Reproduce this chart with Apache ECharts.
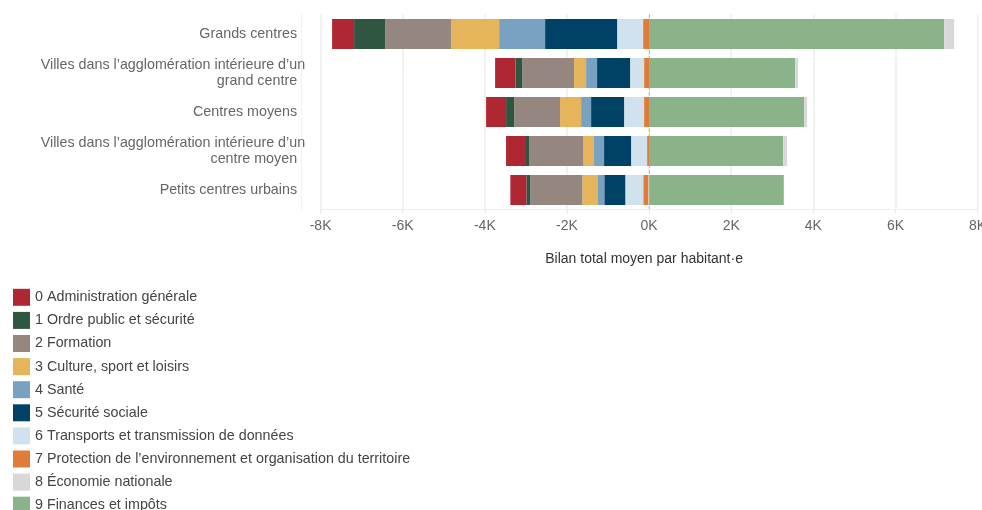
<!DOCTYPE html>
<html lang="fr">
<head>
<meta charset="utf-8">
<script src="https://cdn.jsdelivr.net/npm/echarts@6/dist/echarts.min.js"></script>
<style>
  html, body { margin: 0; padding: 0; background: #fff; }
  #chart { width: 982px; height: 510px; }
</style>
</head>
<body>
<div id="chart"></div>
<script>
// Types de communes (axe vertical)
const categories = [
  'Grands centres',
  'Villes dans l’agglomération intérieure d’un\ngrand centre',
  'Centres moyens',
  'Villes dans l’agglomération intérieure d’un\ncentre moyen',
  'Petits centres urbains'
];

// Fonctions (domaines) : noms et couleurs
const functionNames = [
  '0 Administration générale',
  '1 Ordre public et sécurité',
  '2 Formation',
  '3 Culture, sport et loisirs',
  '4 Santé',
  '5 Sécurité sociale',
  '6 Transports et transmission de données',
  '7 Protection de l’environnement et organisation du territoire',
  '8 Économie nationale',
  '9 Finances et impôts'
];
const functionColors = [
  '#B02734', '#2F5641', '#958780', '#E5B45B', '#79A1C1',
  '#004266', '#D1E2EE', '#E07B39', '#D8D8D8', '#8BB38A'
];

// Bilan moyen par habitant·e (CHF), par fonction et type de commune
const f0 = [-536, -495, -487, -463, -390];
const f1 = [-755, -162, -195, -97, -97];
const f2 = [-1607, -1266, -1120, -1315, -1266];
const f3 = [-1169, -292, -511, -268, -365];
const f4 = [-1120, -268, -244, -244, -170];
const f5 = [-1754, -804, -804, -658, -511];
const f6 = [-633, -341, -487, -390, -438];
const f7 = [-146, -122, -122, -49, -122];
const f8 = [244, 73, 73, 97, -20];
const f9 = [7185, 3556, 3775, 3264, 3280];
const functionValues = [f0, f1, f2, f3, f4, f5, f6, f7, f8, f9];

// Graduations de l'axe des valeurs
const axisMin = -8000;
const axisMax = 8000;
const axisStep = 2000;

const FONT = 'Arial, "Liberation Sans", sans-serif';

// Empilement : la fonction 9 part de zéro, la fonction 0 est la plus éloignée
const stackOrder = [9, 8, 7, 6, 5, 4, 3, 2, 1, 0];
const barSeries = stackOrder.map(i => ({
  name: functionNames[i],
  type: 'bar',
  stack: 'bilan',
  barWidth: 30,
  itemStyle: { color: functionColors[i] },
  emphasis: { disabled: true },
  data: functionValues[i]
}));

// Libellés de catégories : la première ligne d'un libellé sur deux lignes
// déborde légèrement vers la droite, les autres lignes restent en retrait.
const labelText = { fontFamily: FONT, fontSize: 14.3, color: '#666', lineHeight: 16 };
function categoryLabel(value) {
  const lines = value.split('\n');
  if (lines.length === 1) return '{rest|' + lines[0] + '}';
  return '{first|' + lines[0] + '}\n' + lines.slice(1).map(l => '{rest|' + l + '}').join('\n');
}

const chart = echarts.init(document.getElementById('chart'), null, { renderer: 'canvas' });
chart.setOption({
  animation: false,
  textStyle: { fontFamily: FONT },
  color: functionColors,
  grid: {
    left: 320.6, right: 4.4, top: 14.5, bottom: 300.5,
    containLabel: false,
    outerBoundsMode: 'none'
  },
  legend: {
    orient: 'vertical',
    left: 8,
    top: 283.8,
    height: 300,
    itemWidth: 17,
    itemHeight: 17,
    itemGap: 6.1,
    icon: 'rect',
    selectedMode: false,
    data: functionNames,
    textStyle: { fontFamily: FONT, fontSize: 14.3, color: '#444' }
  },
  xAxis: {
    type: 'value',
    min: axisMin,
    max: axisMax,
    interval: axisStep,
    name: 'Bilan total moyen par habitant·e',
    nameLocation: 'middle',
    nameGap: 43,
    nameTextStyle: { fontFamily: FONT, fontSize: 14, color: '#333', padding: [0, 10, 0, 0] },
    axisLine: { show: true, lineStyle: { color: '#eeeeee', width: 1 } },
    axisTick: { show: true, length: 4, lineStyle: { color: '#e8e8e8' } },
    splitLine: { show: true, lineStyle: { color: '#ececec', width: 1.5 } },
    axisLabel: {
      fontFamily: FONT, fontSize: 14, color: '#666', margin: 10,
      formatter: v => (v / 1000) + 'K'
    }
  },
  yAxis: [
    {
      type: 'category',
      data: categories,
      inverse: true,
      offset: 19.5,
      axisLine: { show: true, onZero: false, lineStyle: { color: '#f0f0f0' } },
      axisTick: { show: false },
      axisLabel: {
        ...labelText,
        margin: -4,
        align: 'right',
        formatter: categoryLabel,
        rich: {
          first: { ...labelText, align: 'right' },
          rest: { ...labelText, align: 'right', padding: [0, 8, 0, 0] }
        }
      }
    },
    {
      // ligne du zéro, en tirets, sous les barres
      type: 'category',
      data: categories,
      inverse: true,
      position: 'left',
      axisLine: { show: true, onZero: true, lineStyle: { color: '#bbbbbb', type: [3, 3], width: 1 } },
      axisTick: { show: false },
      axisLabel: { show: false }
    }
  ],
  series: barSeries
});
</script>
</body>
</html>
